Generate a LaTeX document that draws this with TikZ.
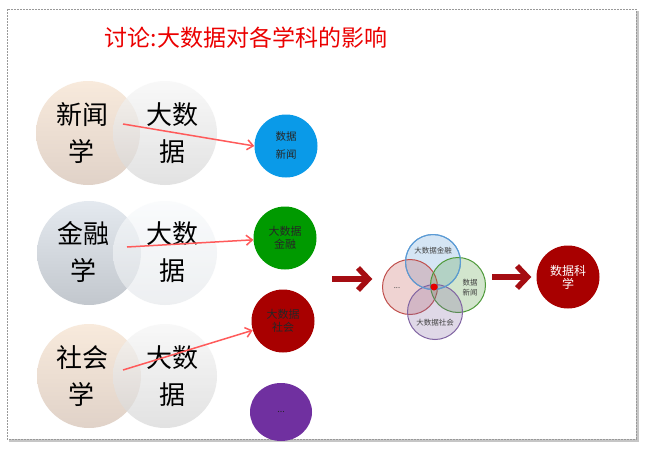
\documentclass[tikz,border=0pt]{standalone}
\usepackage{fontspec}
\setmainfont{Noto Sans CJK SC}
\usetikzlibrary{arrows.meta,shapes.geometric}
\definecolor{peachT}{HTML}{F8EADC}
\definecolor{peachB}{HTML}{E0D2C8}
\definecolor{grayT}{HTML}{F6F6F6}
\definecolor{grayB}{HTML}{D6D6D6}
\definecolor{bgT}{HTML}{E4E9EF}
\definecolor{bgB}{HTML}{C2C7CD}
\definecolor{ltT}{HTML}{F8FAFC}
\definecolor{ltB}{HTML}{E6E9EC}
\definecolor{arrowred}{HTML}{FF5A5A}
\definecolor{darkarrow}{HTML}{A50D12}
\definecolor{cblue}{HTML}{0A9AE8}
\definecolor{cgreen}{HTML}{009A00}
\definecolor{cdred}{HTML}{A80000}
\definecolor{cpurple}{HTML}{7030A0}
\definecolor{cds}{HTML}{A80000}
\definecolor{vblue}{HTML}{5B9BD5}
\definecolor{vred}{HTML}{C0504D}
\definecolor{vgreen}{HTML}{4E9A3A}
\definecolor{vpurple}{HTML}{8064A2}
\begin{document}
\begin{tikzpicture}[x=1pt,y=-1pt,
  bigc/.style={circle,minimum size=104pt,inner sep=0pt},
  bigtxt/.style={font=\fontsize{26}{37}\selectfont,align=center,inner sep=0pt},
  smallc/.style={circle,minimum size=63pt,inner sep=0pt,font=\fontsize{10.5}{14}\selectfont,align=center},
  vennc/.style={circle,minimum size=55pt,inner sep=0pt,line width=1pt,fill opacity=0.25},
  venntxt/.style={font=\fontsize{7.5}{10}\selectfont,align=center,text=black!75,inner sep=0pt},
  redarr/.style={draw=arrowred,line width=1.5pt,-{Straight Barb[length=6pt,width=10pt]}},
  bigarr/.style={darkarrow,line width=5.5pt}
]
\useasboundingbox (0,0) rectangle (645,455);
% frame
\fill[gray!45] (9,11) rectangle (639,442);
\fill[white] (7,9) rectangle (636,439);
\draw[gray!80,line width=1pt,dash pattern=on 2pt off 1pt] (7,9) rectangle (636,439);
% title
\node[text={rgb,255:red,235;green,0;blue,0},font=\fontsize{23}{28}\selectfont] (title) at (246,38) {讨论:大数据对各学科的影响};
% row 1
\node[bigc,top color=peachT,bottom color=peachB] (l1) at (88,133) {};
\node[bigc,top color=grayT,bottom color=grayB,fill opacity=0.7] (r1) at (165,133) {};
\node[bigtxt] (t1l) at (82,133) {新闻\\学};
\node[bigtxt] (t1r) at (172,133) {大数\\据};
% row 2
\node[bigc,top color=bgT,bottom color=bgB] (l2) at (89,253) {};
\node[bigc,top color=ltT,bottom color=ltB,fill opacity=0.7] (r2) at (165,253) {};
\node[bigtxt] (t2l) at (83,252) {金融\\学};
\node[bigtxt] (t2r) at (172,252) {大数\\据};
% row 3
\node[bigc,top color=peachT,bottom color=peachB] (l3) at (89,376) {};
\node[bigc,top color=grayT,bottom color=grayB,fill opacity=0.7] (r3) at (165,376) {};
\node[bigtxt] (t3l) at (82,376) {社会\\学};
\node[bigtxt] (t3r) at (172,376) {大数\\据};
% small circles
\node[smallc,fill=cblue,font=\fontsize{10.5}{18}\selectfont,text=black!85] (sc1) at (286,146) {数据\\新闻};
\node[smallc,fill=cgreen,text=black!85,font=\fontsize{11}{13}\selectfont] (sc2) at (285,238) {大数据\\金融};
\node[smallc,fill=cdred,text=black!85,font=\fontsize{11}{13}\selectfont] (sc3) at (283,321) {大数据\\社会};
\node[ellipse,minimum width=62pt,minimum height=58pt,inner sep=0pt,fill=cpurple,text=black!85,font=\fontsize{9}{10}\selectfont] (sc4) at (281,412) {...};
% red arrows
\coordinate (s1) at (123,124);
\coordinate (s2) at (127,247);
\coordinate (s3) at (123,370);
\draw[redarr] (s1) -- (sc1.west);
\draw[redarr] (s2) -- (sc2);
\draw[redarr] (s3) -- (sc3);
% big arrow 1
\coordinate (b1s) at (332,279);
\coordinate (b1e) at (370,279);
\draw[bigarr] (b1s) -- ([xshift=-4pt]b1e);
\draw[bigarr,miter limit=10] ([xshift=-12pt,yshift=-11pt]b1e) -- ([xshift=-1.5pt]b1e) -- ([xshift=-12pt,yshift=11pt]b1e);
% venn
\node[vennc,draw=vblue,fill=vblue] (vt) at (433,262) {};
\node[vennc,draw=vred,fill=vred] (vl) at (410,287) {};
\node[vennc,draw=vgreen,fill=vgreen] (vr) at (458,285) {};
\node[vennc,draw=vpurple,fill=vpurple] (vb) at (435,312) {};
\draw[vblue,line width=1pt] (vt) circle (27.5pt);
\fill[red!90!black] (434,287) circle (3.5pt);
\node[venntxt] (vtt) at (433,251) {大数据金融};
\node[venntxt] (vrt) at (470,288) {数据\\新闻};
\node[venntxt] (vlt) at (397,288) {...};
\node[venntxt] (vbt) at (435,323) {大数据社会};
% big arrow 2
\coordinate (b2s) at (492,277);
\coordinate (b2e) at (529,277);
\draw[bigarr] (b2s) -- ([xshift=-4pt]b2e);
\draw[bigarr,miter limit=10] ([xshift=-12pt,yshift=-11pt]b2e) -- ([xshift=-1.5pt]b2e) -- ([xshift=-12pt,yshift=11pt]b2e);
% result circle
\node[smallc,fill=cds,text=white,font=\fontsize{12}{13}\selectfont] (ds) at (568,277) {数据科\\学};
\end{tikzpicture}
\end{document}
